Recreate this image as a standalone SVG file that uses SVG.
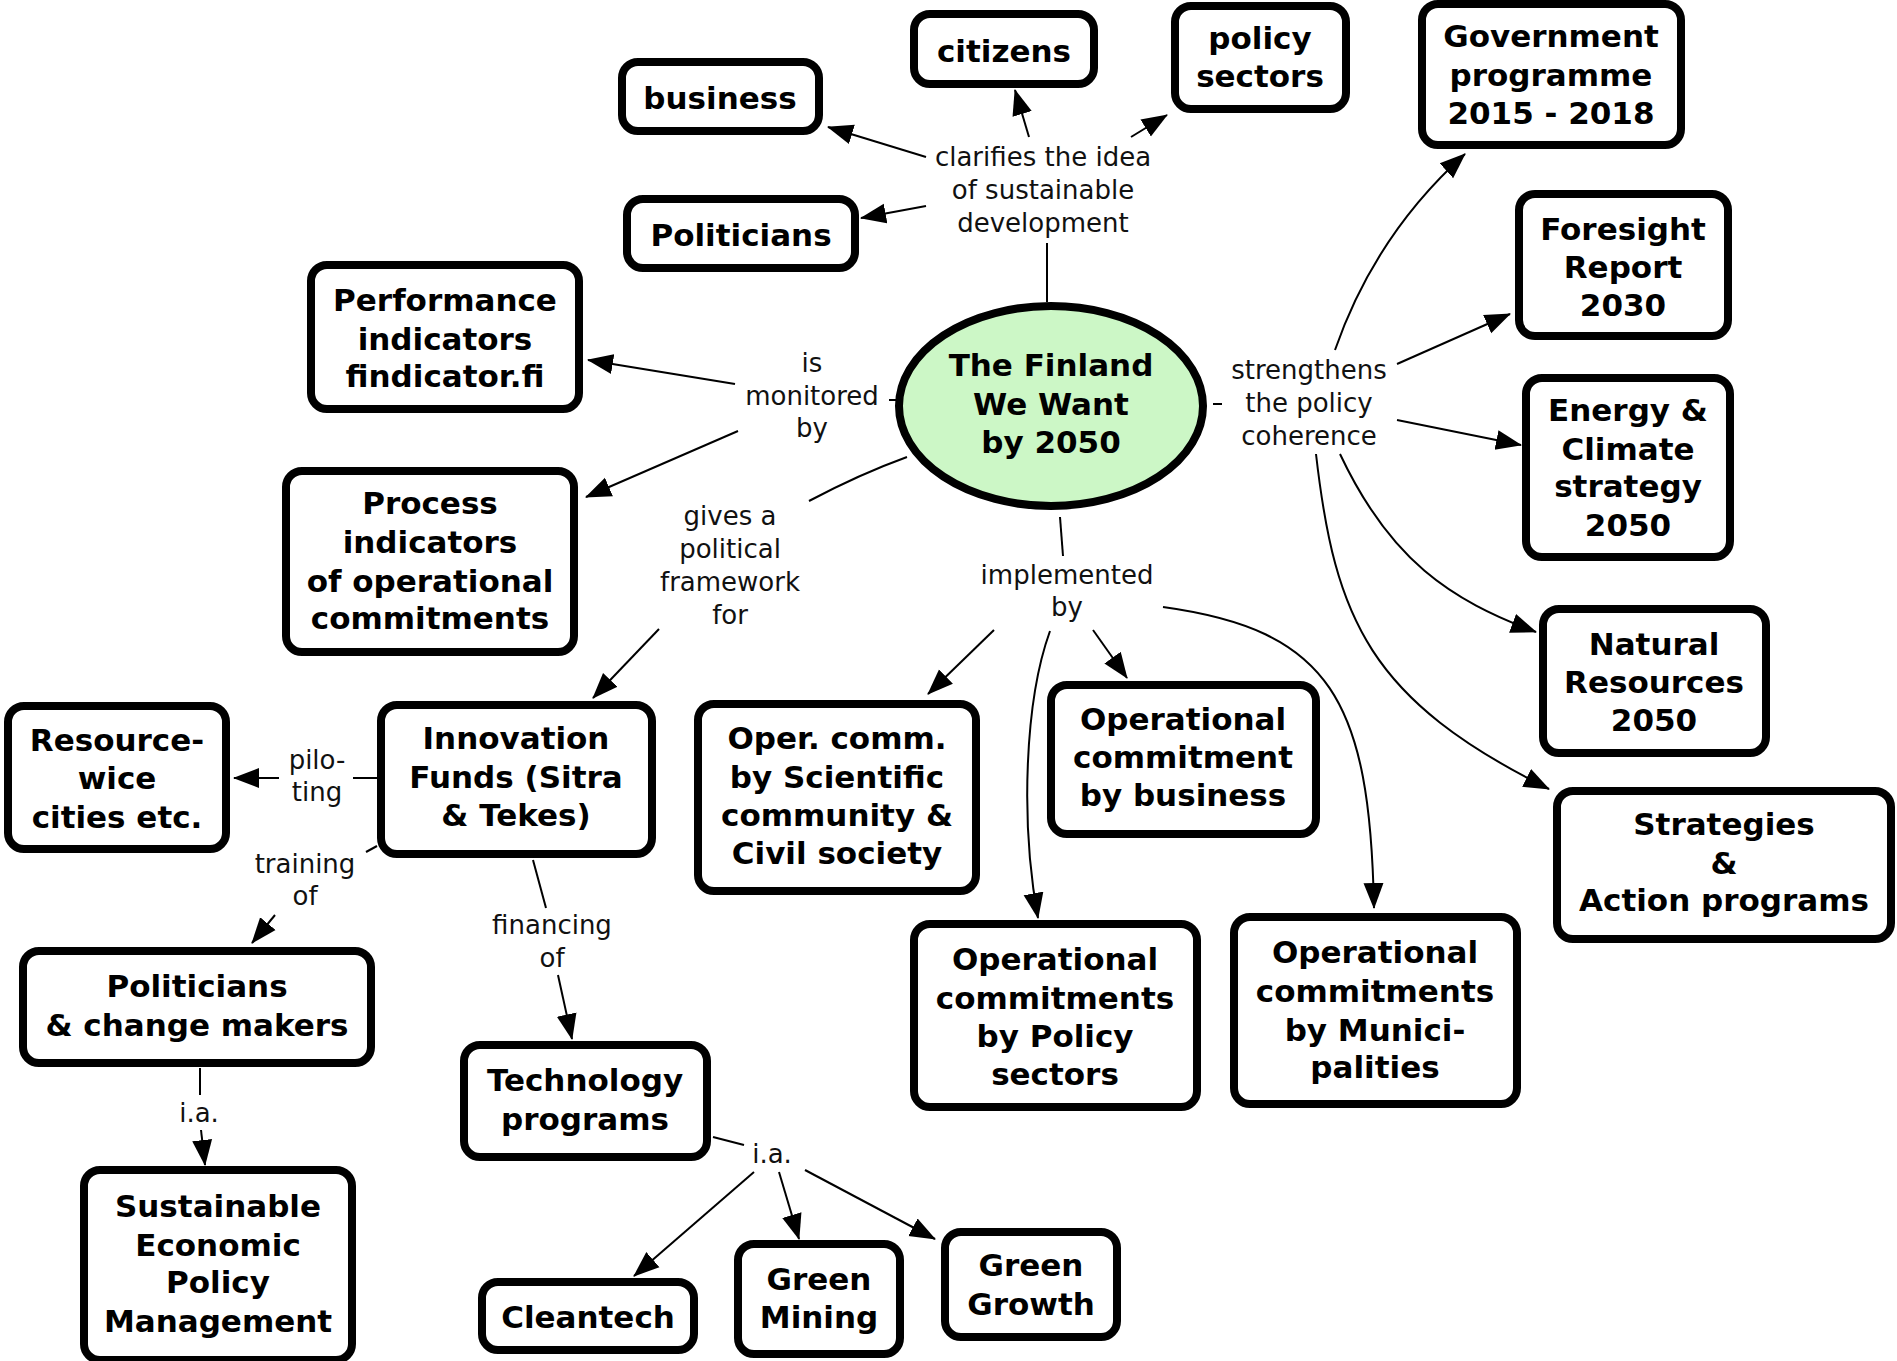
<svg xmlns="http://www.w3.org/2000/svg" width="1897" height="1361" viewBox="0 0 1897 1361">
<defs>
<marker id="ah" markerUnits="userSpaceOnUse" markerWidth="26" markerHeight="22" viewBox="0 0 26 22" refX="25" refY="11" orient="auto">
<path d="M0,1 L26,11 L0,21 Z" fill="#000"/>
</marker>
<style>
.box{fill:#fff;stroke:#000;stroke-width:8}
.nt{font-family:"DejaVu Sans","Verdana",sans-serif;font-weight:bold;font-size:31px;fill:#000;text-anchor:middle}
.lb{font-family:"DejaVu Sans","Verdana",sans-serif;font-size:26px;fill:#111;text-anchor:middle}
.ln{fill:none;stroke:#000;stroke-width:2}
.ar{fill:none;stroke:#000;stroke-width:2;marker-end:url(#ah)}
</style>
</defs>
<rect width="1897" height="1361" fill="#fff"/>

<g id="connectors">
<line class="ar" x1="926" y1="157" x2="828" y2="127"/>
<line class="ar" x1="1029" y1="137" x2="1015" y2="90"/>
<line class="ar" x1="1131" y1="137" x2="1167" y2="115"/>
<line class="ar" x1="926" y1="206" x2="861" y2="218"/>
<line class="ln" x1="1047" y1="243" x2="1047" y2="302"/>
<line class="ar" x1="735" y1="384" x2="588" y2="360"/>
<line class="ar" x1="738" y1="431" x2="586" y2="497"/>
<line class="ln" x1="889" y1="400" x2="897" y2="400"/>
<path class="ln" d="M907,457 Q860,474 809,501"/>
<line class="ar" x1="659" y1="629" x2="593" y2="698"/>
<line class="ln" x1="1213" y1="404" x2="1222" y2="404"/>
<path class="ar" d="M1335,350 Q1375,235 1465,154"/>
<line class="ar" x1="1397" y1="364" x2="1510" y2="314"/>
<line class="ar" x1="1397" y1="420" x2="1521" y2="445"/>
<path class="ar" d="M1340,454 C1390,560 1450,600 1536,632"/>
<path class="ar" d="M1316,454 C1335,620 1370,700 1549,789"/>
<line class="ln" x1="1060" y1="517" x2="1063" y2="556"/>
<line class="ar" x1="994" y1="630" x2="928" y2="694"/>
<line class="ar" x1="1093" y1="630" x2="1127" y2="678"/>
<path class="ar" d="M1050,631 C1025,700 1020,820 1038,918"/>
<path class="ar" d="M1163,607 C1330,630 1370,700 1374,908"/>
<line class="ln" x1="353" y1="778" x2="377" y2="778"/>
<line class="ar" x1="279" y1="778" x2="234" y2="778"/>
<line class="ln" x1="366" y1="852" x2="377" y2="846"/>
<line class="ar" x1="275" y1="915" x2="252" y2="943"/>
<line class="ln" x1="200" y1="1068" x2="200" y2="1095"/>
<line class="ar" x1="201" y1="1130" x2="205" y2="1165"/>
<line class="ln" x1="533" y1="860" x2="546" y2="908"/>
<line class="ar" x1="558" y1="975" x2="572" y2="1039"/>
<line class="ln" x1="713" y1="1137" x2="744" y2="1145"/>
<line class="ar" x1="754" y1="1172" x2="634" y2="1276"/>
<line class="ar" x1="779" y1="1172" x2="799" y2="1239"/>
<line class="ar" x1="805" y1="1170" x2="935" y2="1239"/>

<text class="lb" x="1043"><tspan x="1043" y="166">clarifies the idea</tspan><tspan x="1043" y="199">of sustainable</tspan><tspan x="1043" y="232">development</tspan></text>
<text class="lb"><tspan x="812" y="372">is</tspan><tspan x="812" y="405">monitored</tspan><tspan x="812" y="437">by</tspan></text>
<text class="lb"><tspan x="730" y="525">gives a</tspan><tspan x="730" y="558">political</tspan><tspan x="730" y="591">framework</tspan><tspan x="730" y="624">for</tspan></text>
<text class="lb"><tspan x="1309" y="379">strengthens</tspan><tspan x="1309" y="412">the policy</tspan><tspan x="1309" y="445">coherence</tspan></text>
<text class="lb"><tspan x="1067" y="584">implemented</tspan><tspan x="1067" y="616">by</tspan></text>
<text class="lb"><tspan x="317" y="769">pilo-</tspan><tspan x="317" y="801">ting</tspan></text>
<text class="lb"><tspan x="305" y="873">training</tspan><tspan x="305" y="905">of</tspan></text>
<text class="lb"><tspan x="552" y="934">financing</tspan><tspan x="552" y="967">of</tspan></text>
<text class="lb" x="199" y="1122">i.a.</text>
<text class="lb" x="772" y="1163">i.a.</text>
</g>

<g id="finland">
<ellipse cx="1051" cy="406" rx="152" ry="100" fill="#ccf7c6" stroke="#000" stroke-width="8"/>
<text class="nt"><tspan x="1051" y="376">The Finland</tspan><tspan x="1051" y="415">We Want</tspan><tspan x="1051" y="453">by 2050</tspan></text>
</g>
<g id="business"><rect class="box" x="622" y="62" width="197" height="69" rx="16"/><text class="nt" x="720" y="109">business</text></g>
<g id="citizens"><rect class="box" x="914" y="14" width="180" height="70" rx="16"/><text class="nt" x="1004" y="62">citizens</text></g>
<g id="policy-sectors"><rect class="box" x="1175" y="6" width="171" height="103" rx="16"/><text class="nt"><tspan x="1260" y="49">policy</tspan><tspan x="1260" y="87">sectors</tspan></text></g>
<g id="politicians"><rect class="box" x="627" y="199" width="228" height="69" rx="16"/><text class="nt" x="741" y="246">Politicians</text></g>
<g id="government"><rect class="box" x="1422" y="4" width="259" height="141" rx="16"/><text class="nt"><tspan x="1551" y="47">Government</tspan><tspan x="1551" y="86">programme</tspan><tspan x="1551" y="124">2015 - 2018</tspan></text></g>
<g id="foresight"><rect class="box" x="1519" y="194" width="209" height="142" rx="16"/><text class="nt"><tspan x="1623" y="240">Foresight</tspan><tspan x="1623" y="278">Report</tspan><tspan x="1623" y="316">2030</tspan></text></g>
<g id="energy"><rect class="box" x="1526" y="378" width="204" height="179" rx="16"/><text class="nt"><tspan x="1628" y="421">Energy &amp;</tspan><tspan x="1628" y="460">Climate</tspan><tspan x="1628" y="497">strategy</tspan><tspan x="1628" y="536">2050</tspan></text></g>
<g id="natural"><rect class="box" x="1543" y="609" width="223" height="144" rx="16"/><text class="nt"><tspan x="1654" y="655">Natural</tspan><tspan x="1654" y="693">Resources</tspan><tspan x="1654" y="731">2050</tspan></text></g>
<g id="strategies"><rect class="box" x="1557" y="791" width="334" height="148" rx="16"/><text class="nt"><tspan x="1724" y="835">Strategies</tspan><tspan x="1724" y="874">&amp;</tspan><tspan x="1724" y="911">Action programs</tspan></text></g>
<g id="performance"><rect class="box" x="311" y="265" width="268" height="144" rx="16"/><text class="nt"><tspan x="445" y="311">Performance</tspan><tspan x="445" y="350">indicators</tspan><tspan x="445" y="387">findicator.fi</tspan></text></g>
<g id="process"><rect class="box" x="286" y="471" width="288" height="181" rx="16"/><text class="nt"><tspan x="430" y="514">Process</tspan><tspan x="430" y="553">indicators</tspan><tspan x="430" y="592">of operational</tspan><tspan x="430" y="629">commitments</tspan></text></g>
<g id="resource"><rect class="box" x="8" y="706" width="218" height="143" rx="16"/><text class="nt"><tspan x="117" y="751">Resource-</tspan><tspan x="117" y="789">wice</tspan><tspan x="117" y="828">cities etc.</tspan></text></g>
<g id="innovation"><rect class="box" x="381" y="705" width="271" height="149" rx="16"/><text class="nt"><tspan x="516" y="749">Innovation</tspan><tspan x="516" y="788">Funds (Sitra</tspan><tspan x="516" y="826">&amp; Tekes)</tspan></text></g>
<g id="oper-comm"><rect class="box" x="698" y="704" width="278" height="187" rx="16"/><text class="nt"><tspan x="837" y="749">Oper. comm.</tspan><tspan x="837" y="788">by Scientific</tspan><tspan x="837" y="826">community &amp;</tspan><tspan x="837" y="864">Civil society</tspan></text></g>
<g id="op-business"><rect class="box" x="1051" y="685" width="265" height="149" rx="16"/><text class="nt"><tspan x="1183" y="730">Operational</tspan><tspan x="1183" y="768">commitment</tspan><tspan x="1183" y="806">by business</tspan></text></g>
<g id="op-policy"><rect class="box" x="914" y="924" width="283" height="183" rx="16"/><text class="nt"><tspan x="1055" y="970">Operational</tspan><tspan x="1055" y="1009">commitments</tspan><tspan x="1055" y="1047">by Policy</tspan><tspan x="1055" y="1085">sectors</tspan></text></g>
<g id="op-municipalities"><rect class="box" x="1234" y="917" width="283" height="187" rx="16"/><text class="nt"><tspan x="1375" y="963">Operational</tspan><tspan x="1375" y="1002">commitments</tspan><tspan x="1375" y="1041">by Munici-</tspan><tspan x="1375" y="1078">palities</tspan></text></g>
<g id="politicians-change"><rect class="box" x="23" y="951" width="348" height="112" rx="16"/><text class="nt"><tspan x="197" y="997">Politicians</tspan><tspan x="197" y="1036">&amp; change makers</tspan></text></g>
<g id="sustainable"><rect class="box" x="84" y="1170" width="268" height="190" rx="16"/><text class="nt"><tspan x="218" y="1217">Sustainable</tspan><tspan x="218" y="1256">Economic</tspan><tspan x="218" y="1293">Policy</tspan><tspan x="218" y="1332">Management</tspan></text></g>
<g id="technology"><rect class="box" x="464" y="1045" width="243" height="112" rx="16"/><text class="nt"><tspan x="585" y="1091">Technology</tspan><tspan x="585" y="1130">programs</tspan></text></g>
<g id="cleantech"><rect class="box" x="482" y="1282" width="212" height="68" rx="16"/><text class="nt" x="588" y="1328">Cleantech</text></g>
<g id="green-mining"><rect class="box" x="738" y="1244" width="162" height="110" rx="16"/><text class="nt"><tspan x="819" y="1290">Green</tspan><tspan x="819" y="1328">Mining</tspan></text></g>
<g id="green-growth"><rect class="box" x="945" y="1232" width="172" height="105" rx="16"/><text class="nt"><tspan x="1031" y="1276">Green</tspan><tspan x="1031" y="1315">Growth</tspan></text></g>
</svg>
